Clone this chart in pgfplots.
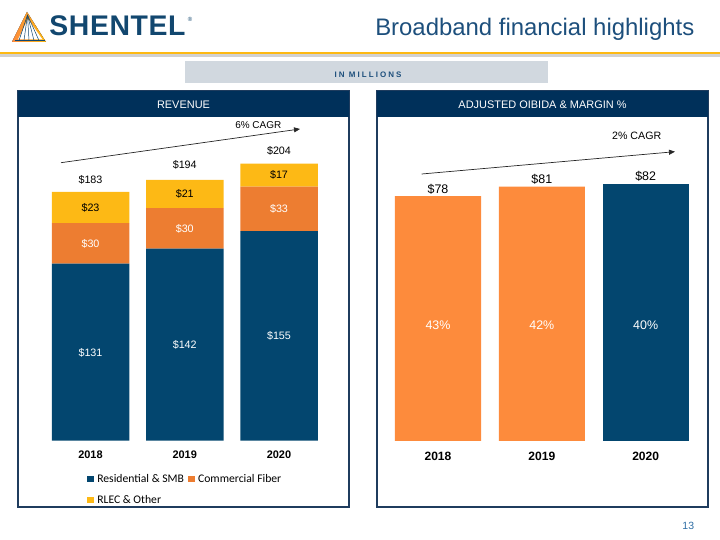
\documentclass[border=0pt]{standalone}
\usepackage{pgfplots}
\pgfplotsset{compat=1.18}
\usetikzlibrary{arrows.meta}
\usepackage{fontspec}
\setmainfont{Liberation Sans}
\newfontfamily\carlito{Carlito}

\definecolor{cnavy}{HTML}{03466F}
\definecolor{chead}{HTML}{00305A}
\definecolor{cborder}{HTML}{1F3C5E}
\definecolor{cdorange}{HTML}{ED7D31}
\definecolor{corange}{HTML}{FD8B3C}
\definecolor{cyellow}{HTML}{FDB915}
\definecolor{cgold}{HTML}{FDB913}
\definecolor{cbanner}{HTML}{D1D8DF}
\definecolor{ctitle}{HTML}{1D4F7C}
\definecolor{clogo}{HTML}{12476F}
\definecolor{cpage}{HTML}{2E6DA4}

\newcommand\fs[1]{\fontsize{#1}{#1}\selectfont}

\begin{document}
\begin{tikzpicture}
\useasboundingbox (0,0) rectangle (720bp,540bp);

% slide decoration, in pixel coordinates (y down)
\begin{scope}[x=1bp, y=-1bp, yshift=540bp]
  % logo
  \fill[left color=corange, right color=cgold] (27,12) -- (12,42) -- (46,42) -- cycle;
  \fill[white] (28,19) -- (18,39.5) -- (42.5,39.5) -- cycle;
  \foreach \e in {19,24,29,34,39}
    \draw[clogo, line width=0.5] (27.5,15) -- (\e,40.5);
  \draw[clogo, line width=1] (15,41) -- (45,41);
  \node[anchor=base west, inner sep=0, text=clogo,
        font=\bfseries\fs{28.5}\addfontfeatures{LetterSpace=2}] at (49.3,36) {SHENTEL};
  \node[inner sep=0, text=clogo, font=\fs{6}] at (190,19) {®};
  % title
  \node[anchor=base east, inner sep=0, text=ctitle, font=\fs{24}] at (694.5,36)
    {Broadband financial highlights};
  % gold rule
  \fill[black!18] (0,54.5) rectangle (720,57);
  \fill[cgold] (0,51.8) rectangle (720,54.5);
  % banner
  \fill[cbanner] (185,61) rectangle (548,83);
  \node[anchor=base, inner sep=0, text=ctitle,
        font=\bfseries\fs{8}\addfontfeatures{LetterSpace=26}] at (368,77.3) {IN MILLIONS};
  % panels
  \draw[cborder, line width=1.3] (18,91) rectangle (349,507);
  \fill[chead] (18,91) rectangle (349,117.3);
  \node[anchor=base, inner sep=0, text=white, font=\fs{11}] at (183.5,108.4) {REVENUE};
  \draw[cborder, line width=1.3] (377,91) rectangle (708,507);
  \fill[chead] (377,91) rectangle (708,117.3);
  \node[anchor=base, inner sep=0, text=white, font=\fs{11}] at (542.5,108.4)
    {ADJUSTED OIBIDA \& MARGIN \%};
  % CAGR arrows
  \draw[-{Triangle[length=6bp,width=5bp]}, line width=0.7bp, black!85] (61,162.7) -- (300,129);
  \node[anchor=base, inner sep=0, font=\fs{10}] at (258.3,128.6) {6\% CAGR};
  \draw[-{Triangle[length=6bp,width=5bp]}, line width=0.7bp, black!85] (421.7,174) -- (675,151.7);
  \node[anchor=base, inner sep=0, font=\fs{10.7}] at (636.7,139.5) {2\% CAGR};
  % page number
  \node[anchor=base, inner sep=0, text=cpage, font=\fs{10.5}] at (688.3,529.3) {13};
\end{scope}

% revenue
\begin{axis}[
  at={(43.375bp,99.3bp)}, anchor=south west,
  scale only axis, width=282.75bp, height=297.4bp,
  ybar stacked, bar width=77.5bp,
  xmin=-0.5, xmax=2.5, ymin=0, ymax=220,
  clip=false,
  axis line style={draw=none},
  ytick=\empty, xtick={0,1,2}, xticklabels={2018,2019,2020},
  major tick length=0pt,
  /pgf/number format/assume math mode=true,
  xticklabel style={font=\bfseries\fs{11}, anchor=base, yshift=-17.5bp, inner sep=0pt},
  legend columns=2,
  legend style={draw=none, fill=none, at={(0.1553,-0.1096)}, anchor=north west,
    inner sep=0pt, cells={anchor=west}, row sep=10bp,
    nodes={inner sep=0pt, text height=9bp, text depth=2bp, font=\carlito\fs{11.7}},
    /tikz/every even column/.append style={column sep=4.3bp}},
  legend image code/.code={\fill[#1] (0bp,-3.3bp) rectangle (6.6bp,3.3bp); \path (9.8bp,0bp);},
  visualization depends on={rawy \as \rawy},
  nodes near coords={\$\pgfmathprintnumber{\rawy}},
  every node near coord/.append style={font=\fs{10.8}, anchor=center, text height=7.7bp,
    text depth=0pt, inner sep=0pt},
]
\addplot[fill=cnavy, draw=none, every node near coord/.append style={text=white}]
  coordinates {(0,131) (1,142) (2,155)};
\addplot[fill=cdorange, draw=none, every node near coord/.append style={text=white}]
  coordinates {(0,30) (1,30) (2,33)};
\addplot[fill=cyellow, draw=none, every node near coord/.append style={text=black}]
  coordinates {(0,23) (1,21) (2,17)};
\legend{Residential \& SMB, Commercial Fiber, RLEC \& Other}
\node[anchor=base, inner sep=0pt, font=\fs{10.8}, yshift=10.1bp] at (axis cs:0,183) {\$183};
\node[anchor=base, inner sep=0pt, font=\fs{10.8}, yshift=10.1bp] at (axis cs:1,194) {\$194};
\node[anchor=base, inner sep=0pt, font=\fs{10.8}, yshift=10.1bp] at (axis cs:2,204) {\$204};
\end{axis}

% adjusted OIBIDA
\begin{axis}[
  at={(386.07bp,99bp)}, anchor=south west,
  scale only axis, width=311.55bp, height=282.6bp,
  ybar, bar width=86bp,
  xmin=-0.5, xmax=2.5, ymin=0, ymax=90,
  clip=false,
  axis line style={draw=none},
  ytick=\empty, xtick={0,1,2}, xticklabels={2018,2019,2020},
  major tick length=0pt,
  /pgf/number format/assume math mode=true,
  xticklabel style={font=\bfseries\fs{12.1}, anchor=base, yshift=-19.3bp, inner sep=0pt},
  nodes near coords={\$\pgfmathprintnumber{\pgfplotspointmeta}},
  every node near coord/.append style={font=\fs{12.5}, anchor=base, yshift=3bp,
    inner sep=0pt, text=black},
]
\addplot[fill=corange, draw=none, bar shift=0pt] coordinates {(0,78) (1,81)};
\addplot[fill=cnavy, draw=none, bar shift=0pt] coordinates {(2,82)};
\node[text=white, font=\fs{12.5}, inner sep=0pt, text height=8.9bp, text depth=0pt]
  at (axis cs:0,36.9) {43\%};
\node[text=white, font=\fs{12.5}, inner sep=0pt, text height=8.9bp, text depth=0pt]
  at (axis cs:1,36.9) {42\%};
\node[text=white, font=\fs{12.5}, inner sep=0pt, text height=8.9bp, text depth=0pt]
  at (axis cs:2,36.9) {40\%};
\end{axis}
\end{tikzpicture}
\end{document}
